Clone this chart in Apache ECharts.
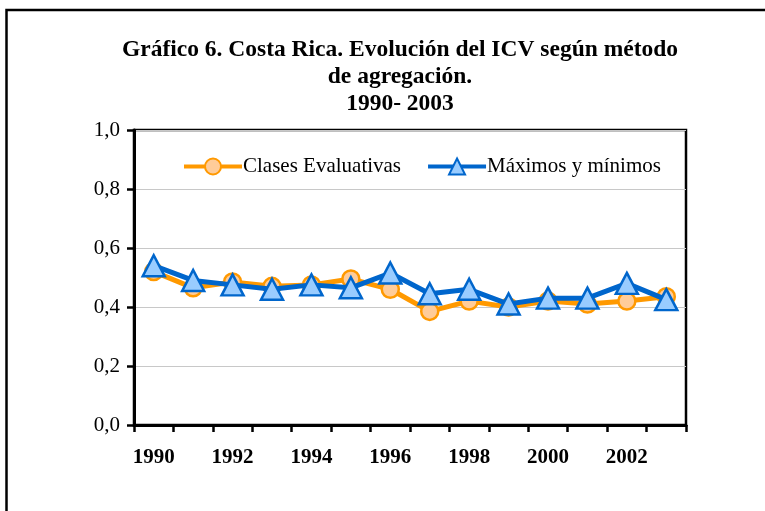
<!DOCTYPE html>
<html><head><meta charset="utf-8">
<script src="https://cdn.jsdelivr.net/npm/echarts@6/dist/echarts.min.js"></script>
<style>html,body{margin:0;padding:0;background:#fff}#c{width:765px;height:511px}</style>
</head><body><div id="c"></div>
<script>
const years = ['1990','1991','1992','1993','1994','1995','1996','1997','1998','1999','2000','2001','2002','2003'];
const clasesEvaluativas = [0.52,0.465,0.485,0.47,0.475,0.495,0.46,0.385,0.42,0.40,0.42,0.41,0.42,0.435];
const maximosMinimos = [0.54,0.49,0.475,0.46,0.475,0.465,0.515,0.445,0.46,0.41,0.43,0.43,0.48,0.425];
const yTicks = ['0,0','0,2','0,4','0,6','0,8','1,0'];
const titleLines = ['Gráfico 6. Costa Rica. Evolución del ICV según método','de agregación.','1990- 2003'];

const serif = '"Liberation Serif","Times New Roman",serif';
const chart = echarts.init(document.getElementById('c'));
chart.setOption({
  animation:false,
  backgroundColor:'#fff',
  title:{
    text: titleLines.join('\n'),
    left: 395, top: 31, textAlign:'center',
    textStyle:{fontFamily:serif,fontWeight:'bold',fontSize:23.5,color:'#000',lineHeight:27}
  },
  legend:{
    top:151, left:177, itemGap:25, itemWidth:58, itemHeight:20,
    lineStyle:{width:4},
    textStyle:{fontFamily:serif,fontSize:21,color:'#000',padding:[0,0,0,-4]},
    data:['Clases Evaluativas','Máximos y mínimos']
  },
  grid:{left:134,right:79,top:130,bottom:86,show:true,borderColor:'#000',borderWidth:2.5,backgroundColor:'transparent'},
  xAxis:{
    type:'category', data:years, boundaryGap:true,
    axisLine:{lineStyle:{color:'#000',width:3}},
    axisTick:{show:true,length:7,interval:0,lineStyle:{color:'#000',width:2.5}},
    axisLabel:{interval:1,margin:22,fontFamily:serif,fontWeight:'bold',fontSize:21,color:'#000'}
  },
  yAxis:{
    type:'value', min:0, max:1, interval:0.2,
    axisLine:{show:true,lineStyle:{color:'#000',width:3}},
    axisTick:{show:true,length:7,lineStyle:{color:'#000',width:2.5}},
    splitLine:{show:true,lineStyle:{color:'#c8c8c8',width:1}},
    axisLabel:{margin:14,fontFamily:serif,fontSize:21,color:'#000',
      formatter:(v)=>yTicks[Math.round(v/0.2)]}
  },
  graphic:[{type:'rect',shape:{x:6.5,y:10,width:800,height:600},style:{fill:'none',stroke:'#000',lineWidth:2.5},z:-1}],
  series:[
    {name:'Clases Evaluativas',type:'line',data:clasesEvaluativas,symbol:'circle',symbolSize:17,
     lineStyle:{color:'#FF9900',width:5},itemStyle:{color:'#FFCC99',borderColor:'#FF9900',borderWidth:2.5},z:2},
    {name:'Máximos y mínimos',type:'line',data:maximosMinimos,symbol:'triangle',symbolSize:[22,21],
     lineStyle:{color:'#0066CC',width:5},itemStyle:{color:'#99CCFF',borderColor:'#0066CC',borderWidth:2.5},z:3}
  ]
});
</script></body></html>
